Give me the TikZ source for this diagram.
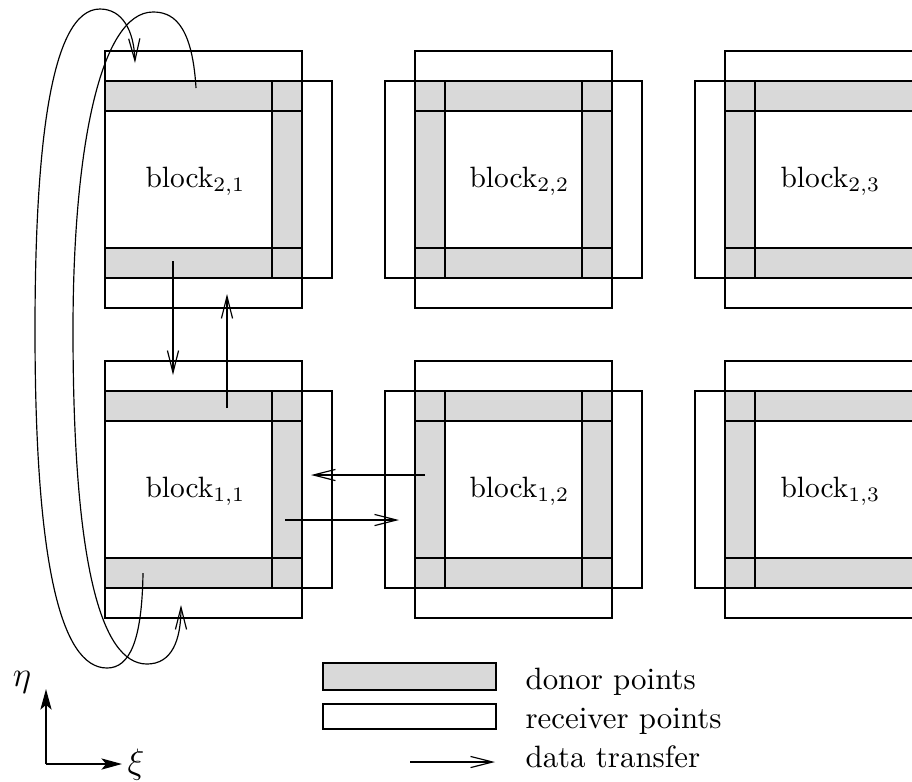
\documentclass[tikz,border=0pt]{standalone}
\usetikzlibrary{arrows.meta}
\definecolor{donorgray}{gray}{0.85}
\newcommand{\legendfont}{\fontsize{10.5}{12.6}\selectfont}
\begin{document}
\begin{tikzpicture}[x=0.34pt,y=-0.34pt,
  receiver/.style={draw=black,line width=0.4pt},
  donorfill/.style={fill=donorgray,draw=none},
  donorline/.style={draw=black,line width=0.4pt},
  edgecol/.style={draw=black,line width=0.75pt},
  xfer/.style={line width=0.4pt,-{Straight Barb[length=7.5pt,width=3.8pt]}},
  axis/.style={line width=0.5pt,-{Stealth[length=7pt,width=3.8pt,inset=1.6pt]}},
  blocklabel/.style={anchor=base west,inner sep=0pt},
  legendtext/.style={anchor=base west,inner sep=0pt,font=\legendfont}]
\useasboundingbox (0,0) rectangle (912,781);
\clip (0,0) rectangle (912,781);

% ---- two rows of blocks: donor square 197 wide, bands 30, overlap 30
\foreach \y in {81,391}{
  % receiver regions
  \draw[receiver] (105,\y-30) rectangle (302,\y+227);
  \draw[receiver] (105,\y) rectangle (332,\y+197);
  \draw[receiver] (415,\y-30) rectangle (612,\y+227);
  \draw[receiver] (385,\y) rectangle (642,\y+197);
  \draw[receiver] (725,\y-30) rectangle (922,\y+227);
  \draw[receiver] (695,\y) rectangle (952,\y+197);
  % donor regions: fills first
  \path[donorfill] (105,\y) rectangle (302,\y+30);
  \path[donorfill] (105,\y+167) rectangle (302,\y+197);
  \path[donorfill] (272,\y) rectangle (302,\y+197);
  \path[donorfill] (415,\y) rectangle (612,\y+30);
  \path[donorfill] (415,\y+167) rectangle (612,\y+197);
  \path[donorfill] (415,\y) rectangle (445,\y+197);
  \path[donorfill] (582,\y) rectangle (612,\y+197);
  \path[donorfill] (725,\y) rectangle (922,\y+30);
  \path[donorfill] (725,\y+167) rectangle (922,\y+197);
  \path[donorfill] (725,\y) rectangle (755,\y+197);
  % donor outlines
  \draw[donorline] (105,\y) rectangle (302,\y+30);
  \draw[donorline] (105,\y+167) rectangle (302,\y+197);
  \draw[donorline] (415,\y) rectangle (612,\y+30);
  \draw[donorline] (415,\y+167) rectangle (612,\y+197);
  \draw[donorline] (415,\y) rectangle (445,\y+197);
  \draw[donorline] (725,\y) rectangle (922,\y+30);
  \draw[donorline] (725,\y+167) rectangle (922,\y+197);
  \draw[donorline] (725,\y) rectangle (755,\y+197);
  \draw[edgecol] (272,\y) rectangle (302,\y+197);
  \draw[edgecol] (582,\y) rectangle (612,\y+197);
}

% ---- block names
\node[blocklabel] (b21) at (145,187) {block$_{2,1}$};
\node[blocklabel] (b22) at (469,187) {block$_{2,2}$};
\node[blocklabel] (b23) at (780,187) {block$_{2,3}$};
\node[blocklabel] (b11) at (145,497) {block$_{1,1}$};
\node[blocklabel] (b12) at (469,497) {block$_{1,2}$};
\node[blocklabel] (b13) at (780,497) {block$_{1,3}$};

% ---- transfer end points
\coordinate (dn1) at (173,261);  \coordinate (dn2) at (173,375);
\coordinate (up1) at (227,408);  \coordinate (up2) at (227,294);
\coordinate (lf1) at (425,475);  \coordinate (lf2) at (311,475);
\coordinate (rt1) at (285,520);  \coordinate (rt2) at (399,520);
\coordinate (pa1) at (143,573);  \coordinate (pa2) at (135,63);
\coordinate (pb1) at (196,88);   \coordinate (pb2) at (181,605);

% ---- neighbour transfers
\draw[xfer] (dn1) -- (dn2);
\draw[xfer] (up1) -- (up2);
\draw[xfer] (lf1) -- (lf2);
\draw[xfer] (rt1) -- (rt2);

% ---- periodic transfers around the left side
\draw[xfer] (pa1) .. controls (142,640) and (130,668) .. (107,668)
  .. controls (60,668) and (35,560) .. (35,330)
  .. controls (35,150) and (50,9) .. (100,9)
  .. controls (122,9) and (134,30) .. (pa2);
\draw[xfer] (pb1) .. controls (192,20) and (170,12) .. (153,12)
  .. controls (100,12) and (73,150) .. (73,330)
  .. controls (73,560) and (100,664) .. (147,664)
  .. controls (172,664) and (181,640) .. (pb2);

% ---- coordinate axes
\coordinate (orig) at (46,764);
\coordinate (etatip) at (46,689);
\coordinate (xitip) at (122,764);
\draw[axis] (orig) -- (etatip);
\draw[axis] (orig) -- (xitip);
\node[inner sep=0pt,font=\fontsize{11.5}{13}\selectfont] (etalab) at (22,682.5) {$\eta$};
\node[anchor=west,inner sep=0pt,font=\fontsize{11.5}{13}\selectfont] (xilab) at (127,765) {$\xi$};

% ---- legend
\node[donorfill,donorline,minimum width=173*0.34pt,minimum height=27*0.34pt,inner sep=0pt] (lgdonor) at (409.5,676.5) {};
\node[receiver,minimum width=173*0.34pt,minimum height=25*0.34pt,inner sep=0pt] (lgrecv) at (409.5,716.5) {};
\coordinate (lga1) at (410,762);
\coordinate (lga2) at (495,762);
\draw[xfer] (lga1) -- (lga2);
\node[legendtext] (ltdonor) at (525,689) {donor points};
\node[legendtext] (ltrecv) at (525,728) {receiver points};
\node[legendtext] (ltxfer) at (525,767) {data transfer};
\end{tikzpicture}
\end{document}
